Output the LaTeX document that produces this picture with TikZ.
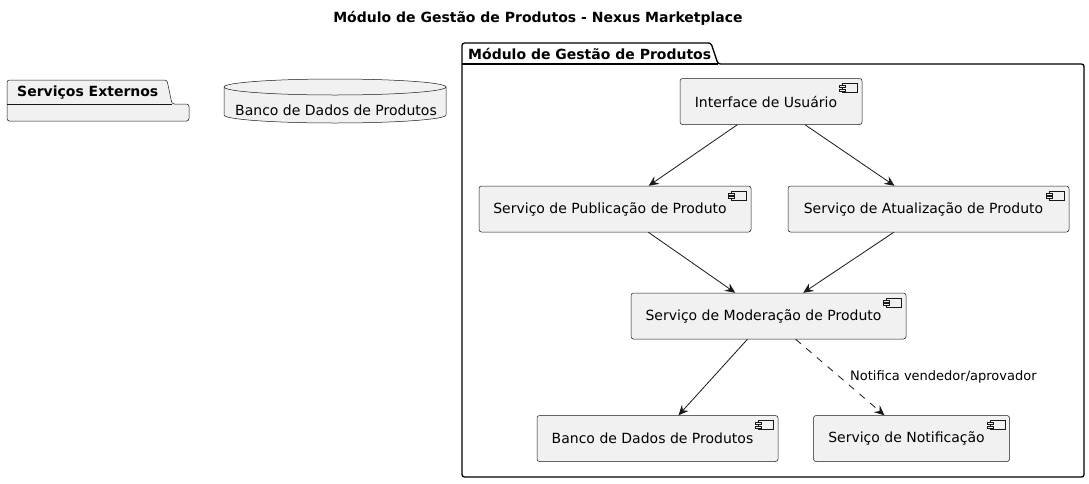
\documentclass[tikz,border=0pt]{standalone}
\usepackage{fontspec}
\setmainfont{DejaVu Sans}
\usetikzlibrary{arrows.meta,calc}
\definecolor{fillc}{HTML}{F1F1F1}
\definecolor{linec}{HTML}{181818}
\newcommand{\ctext}[1]{\raisebox{-2pt}{\hspace*{-10pt}#1}}
\tikzset{
  comp/.style={draw=linec, line width=0.5pt, fill=fillc, rounded corners=2.5pt, minimum height=46pt, inner sep=0pt, font=\fontsize{14}{16}\selectfont, text=black},
  conn/.style={draw=linec, line width=0.8pt, -{Stealth[length=10pt,width=9pt,inset=3.5pt]}},
  pkg/.style={draw=black, line width=1.3pt, fill=white, rounded corners=2.5pt},
  pkglabel/.style={font=\fontsize{14}{16}\selectfont\bfseries, anchor=west, inner sep=0pt},
  lbl/.style={font=\fontsize{13}{15}\selectfont, anchor=west, inner sep=0pt}
}
\begin{document}
\begin{tikzpicture}[x=1pt,y=-1pt]
\useasboundingbox (0,0) rectangle (1089,483);
% title
\node[font=\fontsize{14}{16}\selectfont\bfseries] (title) at (538,18) {Módulo de Gestão de Produtos - Nexus Marketplace};
% package Servicos Externos
\draw[draw=linec, line width=0.5pt, fill=fillc, rounded corners=2.5pt] (7,104) -- (7,80) -- (167,80) -- (172,104) -- (189,104) -- (189,121) -- (7,121) -- cycle;
\draw[draw=linec, line width=0.5pt] (7,104) -- (172,104);
\node[pkglabel] (ext) at (17,92.5) {Serviços Externos};
% database
\draw[draw=linec, line width=0.5pt, fill=fillc] (224,87) -- (224,115) arc[start angle=180,end angle=0,x radius=111,y radius=8] -- (446,87) arc[start angle=0,end angle=-180,x radius=111,y radius=8] -- cycle;
\draw[draw=linec, line width=0.5pt] (224,87) arc[start angle=180,end angle=0,x radius=111,y radius=8];
\node[font=\fontsize{14}{16}\selectfont] (db) at (336,110) {Banco de Dados de Produtos};
% package Modulo
\draw[pkg] (462,64) -- (462,43) -- (711,43) -- (718,64) -- (1084,64) -- (1084,477) -- (462,477) -- cycle;
\draw[line width=1.3pt] (462,64) -- (718,64);
\node[pkglabel] (mod) at (468,53.5) {Módulo de Gestão de Produtos};
% components
\node[comp, minimum width=182pt] (ui) at (771,101.5) {\ctext{Interface de Usuário}};
\node[comp, minimum width=272pt] (pub) at (615,209) {\ctext{Serviço de Publicação de Produto}};
\node[comp, minimum width=281pt] (atu) at (928.5,209) {\ctext{Serviço de Atualização de Produto}};
\node[comp, minimum width=275pt] (modr) at (768.5,316) {\ctext{Serviço de Moderação de Produto}};
\node[comp, minimum width=241pt] (bdp) at (657.5,438.5) {\ctext{Banco de Dados de Produtos}};
\node[comp, minimum width=196pt] (notif) at (911.5,438.5) {\ctext{Serviço de Notificação}};
\foreach \n in {ui,pub,atu,modr,bdp,notif}{
  \draw[draw=linec, line width=0.5pt, fill=fillc] ($(\n.north east)+(-20,5)$) rectangle ($(\n.north east)+(-5,14)$);
  \draw[draw=linec, line width=0.5pt, fill=fillc] ($(\n.north east)+(-23,7)$) rectangle ($(\n.north east)+(-17,9)$);
  \draw[draw=linec, line width=0.5pt, fill=fillc] ($(\n.north east)+(-23,10.5)$) rectangle ($(\n.north east)+(-17,12.5)$);
}
% connectors
\draw[conn] (ui) -- (pub);
\draw[conn] (ui) -- (atu);
\draw[conn] (pub) -- (modr);
\draw[conn] (atu) -- (modr);
\draw[conn] (modr) -- (bdp);
\draw[conn, dash pattern=on 7pt off 7pt] (modr) -- (notif);
\node[lbl] (nlbl) at (850,377) {Notifica vendedor/aprovador};
\end{tikzpicture}
\end{document}
